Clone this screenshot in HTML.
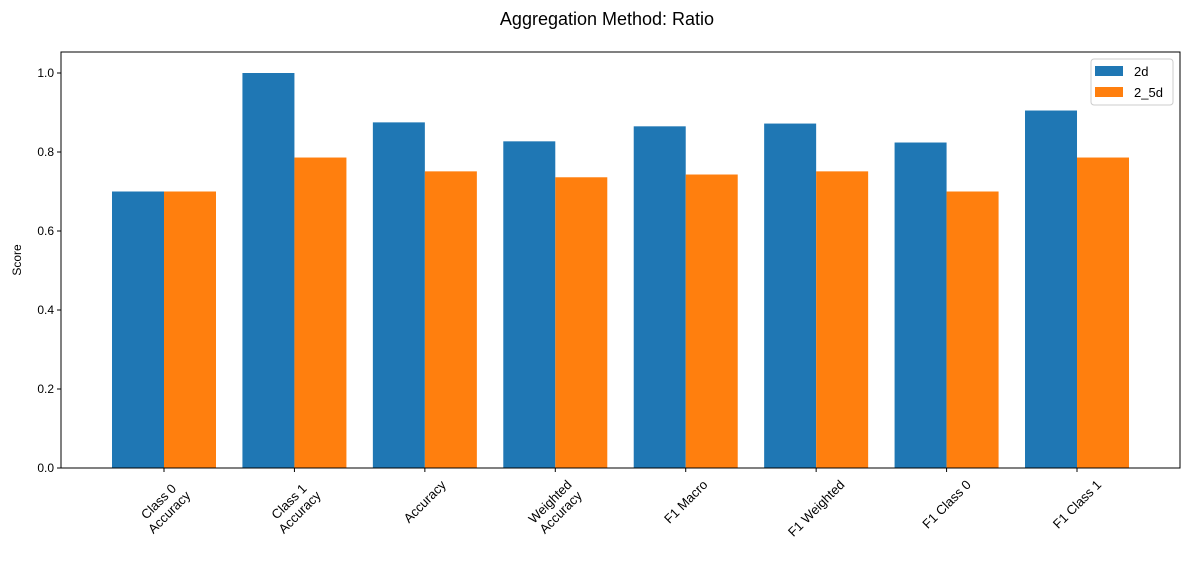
<!DOCTYPE html>
<html><head><meta charset="utf-8"><style>
body{margin:0;background:#fff;font-family:"Liberation Sans","DejaVu Sans",sans-serif;}
</style></head><body>
<svg id="chart" width="1189" height="559" xmlns="http://www.w3.org/2000/svg">
<text x="607" y="25" text-anchor="middle" font-size="18">Aggregation Method: Ratio</text>
<text transform="translate(21,260) rotate(-90)" text-anchor="middle" font-size="12">Score</text>
<g id="bars"></g><g id="axes"></g>
</svg>
<script>
const categories=[["Class 0","Accuracy"],["Class 1","Accuracy"],["Accuracy"],["Weighted","Accuracy"],["F1 Macro"],["F1 Weighted"],["F1 Class 0"],["F1 Class 1"]];
const series2d=[0.70,1.0,0.875,0.827,0.865,0.872,0.824,0.905];
const series25d=[0.70,0.786,0.751,0.736,0.743,0.751,0.70,0.786];
const yTicks=[0.0,0.2,0.4,0.6,0.8,1.0];
const NS="http://www.w3.org/2000/svg";
const L=61,R=1180,T=52,B=468;
const y=v=>B-v*395;
const x=i=>164+i*130.43;
const bw=52;
const bars=document.getElementById('bars'),axes=document.getElementById('axes');
function mk(tag,attrs,parent){const e=document.createElementNS(NS,tag);for(const k in attrs)e.setAttribute(k,attrs[k]);parent.appendChild(e);return e;}
categories.forEach((c,i)=>{
  let r=mk('rect',{x:x(i)-bw,y:y(series2d[i]),width:bw,height:B-y(series2d[i]),fill:'#1f77b4'},bars);
  
  
  let r2=mk('rect',{x:x(i),y:y(series25d[i]),width:bw,height:B-y(series25d[i]),fill:'#ff7f0e'},bars);
  
  
  mk('line',{x1:x(i),x2:x(i),y1:B,y2:B+4,stroke:'#000'},axes);
  let t=mk('text',{'font-size':13,'text-anchor':'middle'},axes);
  
  
  c.forEach((ln,j)=>{const s=mk('tspan',{x:0,y:j*15},t);s.textContent=ln;});
  const bb=t.getBBox();
  const cx=bb.x+bb.width/2, cy=bb.y+bb.height/2;
  const half=(bb.width+bb.height)*0.7071/2;
  t.setAttribute('transform',`translate(${x(i)},${B+9+half}) rotate(-45) translate(${-cx},${-cy})`);
});
yTicks.forEach(v=>{
  mk('line',{x1:L-4,x2:L,y1:y(v),y2:y(v),stroke:'#000'},axes);
  let t=mk('text',{x:L-7,y:y(v)+4,'font-size':12,'text-anchor':'end'},axes);
  
  
  t.textContent=v.toFixed(1);
});
let fr=mk('rect',{x:L,y:T,width:R-L,height:B-T,fill:'none',stroke:'#000','stroke-width':1},axes);


const lg=mk('g',{},axes);


mk('rect',{x:1091,y:59,width:82,height:46,fill:'#fff',stroke:'#ccc',rx:3},lg);
[['2d','#1f77b4'],['2_5d','#ff7f0e']].forEach((d,k)=>{
  mk('rect',{x:1095,y:66+k*21,width:28,height:10,fill:d[1]},lg);
  let t=mk('text',{x:1134,y:76+k*21,'font-size':13},lg);
  
  
  t.textContent=d[0];
});
</script>
</body></html>
